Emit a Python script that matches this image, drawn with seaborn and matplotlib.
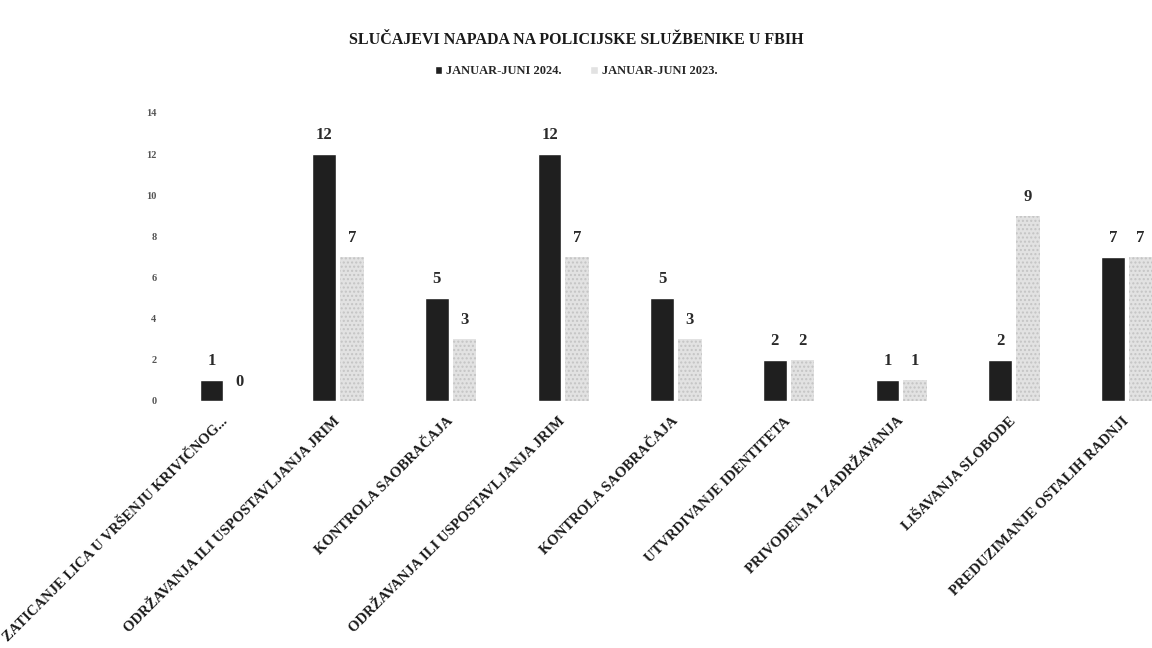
import pandas as pd
import matplotlib
matplotlib.use("Agg")
import matplotlib.pyplot as plt
from matplotlib.patches import Patch
import seaborn as sns

# data
categories = [
    "ZATICANJE LICA U VRŠENJU KRIVIČNOG...",
    "ODRŽAVANJA ILI USPOSTAVLJANJA JRIM",
    "KONTROLA SAOBRAČAJA",
    "ODRŽAVANJA ILI USPOSTAVLJANJA JRIM",
    "KONTROLA SAOBRAČAJA",
    "UTVRDIVANJE IDENTITETA",
    "PRIVODENJA I ZADRŽAVANJA",
    "LIŠAVANJA SLOBODE",
    "PREDUZIMANJE OSTALIH RADNJI",
]
values_2024 = [1, 12, 5, 12, 5, 2, 1, 2, 7]
values_2023 = [0, 7, 3, 7, 3, 2, 1, 9, 7]
periods = ["JANUAR-JUNI 2024.", "JANUAR-JUNI 2023."]
y_ticks = [0, 2, 4, 6, 8, 10, 12, 14]
title = "SLUČAJEVI NAPADA NA POLICIJSKE SLUŽBENIKE U FBIH"

n = len(categories)
# categories repeat, so use the position as the x key
df = pd.DataFrame({
    "pos": list(range(n)) * 2,
    "period": [periods[0]] * n + [periods[1]] * n,
    "value": values_2024 + values_2023,
})

sns.set_theme(style="white")
plt.rcParams["font.family"] = ["Liberation Serif", "DejaVu Serif"]
plt.rcParams["font.weight"] = "bold"

colors = ["#1f1f1f", "#e2e2e2"]

fig = plt.figure(figsize=(11.52, 6.48), dpi=100)
ax = fig.add_axes([169 / 1152, 247 / 648, 1014 / 1152, 288 / 648])

sns.barplot(data=df, x="pos", y="value", hue="period", hue_order=periods,
            palette=colors, width=0.49, gap=0.14, saturation=1,
            legend=False, ax=ax)

# speckled look for the light bars
for bar in ax.containers[1]:
    bar.set_hatch("....")
    bar.set_edgecolor("#c4c4c4")
    bar.set_linewidth(0)

for cont in ax.containers:
    ax.bar_label(cont, padding=8, fontsize=12, fontweight="bold", color="#2a2a2a")

ax.set_ylim(0, 14)
ax.set_yticks(y_ticks)
ax.set_yticklabels([str(t) for t in y_ticks], fontsize=7.5, color="#555555")
ax.set_xlim(-0.5, n - 0.5)
ax.set_xticks(range(n))
ax.set_xticklabels(categories, rotation=45, ha="right", va="center",
                   rotation_mode="anchor", fontsize=10.5, color="#1a1a1a")
ax.tick_params(axis="x", pad=13, length=0)
ax.tick_params(axis="y", pad=9, length=0)
ax.set_xlabel("")
ax.set_ylabel("")
sns.despine(ax=ax, left=True, bottom=True)

fig.text(0.5, 1 - 40 / 648, title, ha="center", va="center",
         fontsize=11.5, fontweight="bold", color="#1a1a1a")

handles = [Patch(facecolor=colors[0]), Patch(facecolor=colors[1])]
fig.legend(handles, periods, loc="center", bbox_to_anchor=(0.5, 1 - 71 / 648),
           ncol=2, frameon=False, fontsize=9, handlelength=0.6, handleheight=0.6,
           handletextpad=0.3, columnspacing=2.3)

fig.savefig("out.png", dpi=100)
